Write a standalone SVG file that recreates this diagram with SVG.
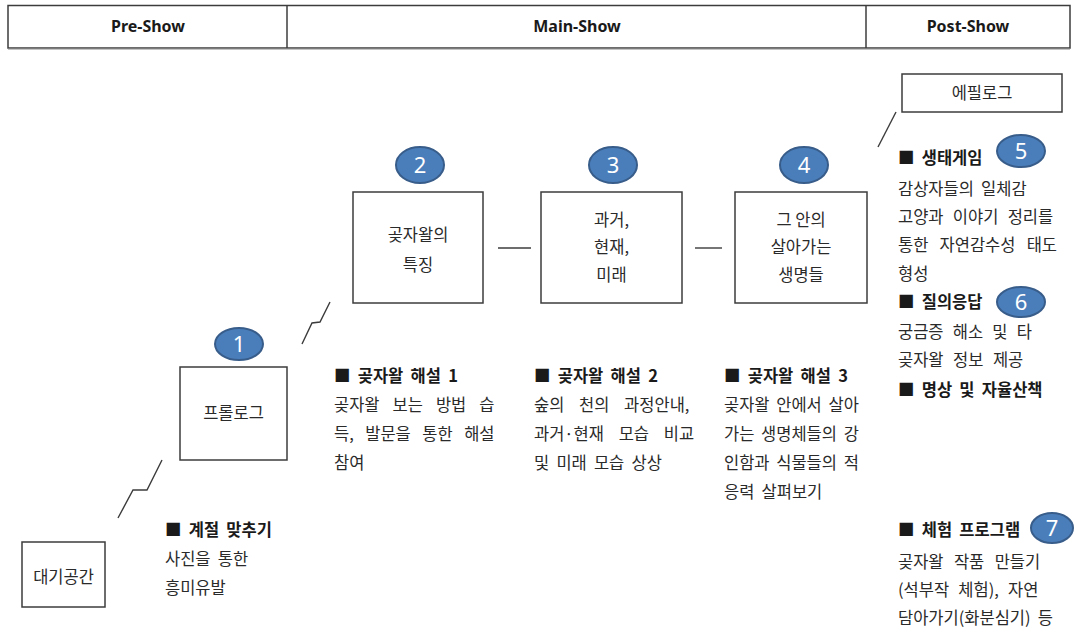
<svg xmlns="http://www.w3.org/2000/svg" width="1074" height="632" viewBox="0 0 1074 632">
<style>
.box{fill:#fff;stroke:#3c3c3c;stroke-width:1.5}
.hdr{fill:#fff;stroke:#3c3c3c;stroke-width:1.5}
.ht{font-family:"Noto Sans","Liberation Sans",sans-serif;font-size:16px;font-weight:bold;fill:#1a1a1a;text-anchor:middle}
.kt{font-family:"Noto Sans CJK KR","Noto Sans",sans-serif;font-size:16.5px;fill:#2a2a2a}
.bt{font-family:"Noto Sans CJK KR","Noto Sans",sans-serif;font-size:16.5px;fill:#2a2a2a;word-spacing:3.5px}
.tt{font-family:"Noto Sans CJK KR","Noto Sans",sans-serif;font-size:16.5px;font-weight:bold;fill:#1a1a1a;word-spacing:3.5px}
.c{text-anchor:middle}
.badge{fill:#4a7ebb;stroke:#385d8a;stroke-width:2}
.num{font-family:"Noto Sans","Liberation Sans",sans-serif;font-size:22px;fill:#fff;text-anchor:middle}
.conn{fill:none;stroke:#3c3c3c;stroke-width:1.4}
</style>
<rect width="1074" height="632" fill="#fff"/>
<g id="header">
<rect class="hdr" x="8" y="5.5" width="1062" height="42.5"/>
<line x1="287" y1="5.5" x2="287" y2="48" stroke="#3c3c3c" stroke-width="1.5"/>
<line x1="866" y1="5.5" x2="866" y2="48" stroke="#3c3c3c" stroke-width="1.5"/>
<line x1="8" y1="49" x2="1070" y2="49" stroke="#8a8a8a" stroke-width="1"/>
<text class="ht" x="148" y="32">Pre-Show</text>
<text class="ht" x="577" y="32">Main-Show</text>
<text class="ht" x="968" y="32">Post-Show</text>
</g>
<g id="connectors">
<polyline class="conn" points="118,518 133,490 147,490 162,460"/>
<polyline class="conn" points="302,344 312,323 320,322 330,302"/>
<line class="conn" x1="498" y1="248" x2="531" y2="248"/>
<line class="conn" x1="695" y1="248" x2="722" y2="248"/>
<line class="conn" x1="896" y1="112" x2="878" y2="147"/>
</g>
<g id="node-waiting">
<rect class="box" x="22" y="542" width="83" height="65"/>
<text class="kt c" x="63.5" y="583">대기공간</text>
</g>
<g id="node-prologue">
<rect class="box" x="180" y="367" width="107" height="93"/>
<text class="kt c" x="233.5" y="419">프롤로그</text>
<ellipse class="badge" cx="239" cy="344" rx="24" ry="16"/>
<text class="num" x="239" y="352">1</text>
</g>
<g id="node-feature">
<rect class="box" x="353" y="192" width="130" height="111"/>
<text class="kt c" x="418" y="241">곶자왈의</text>
<text class="kt c" x="418" y="271">특징</text>
<ellipse class="badge" cx="420" cy="165" rx="24" ry="18"/>
<text class="num" x="420" y="173">2</text>
</g>
<g id="node-time">
<rect class="box" x="541" y="192" width="141" height="111"/>
<text class="kt c" x="611.5" y="226">과거,</text>
<text class="kt c" x="611.5" y="253">현재,</text>
<text class="kt c" x="611.5" y="281">미래</text>
<ellipse class="badge" cx="613" cy="165" rx="24" ry="18"/>
<text class="num" x="613" y="173">3</text>
</g>
<g id="node-life">
<rect class="box" x="735" y="192" width="132" height="111"/>
<text class="kt c" x="801" y="226">그 안의</text>
<text class="kt c" x="801" y="253">살아가는</text>
<text class="kt c" x="801" y="281">생명들</text>
<ellipse class="badge" cx="804" cy="165" rx="24" ry="18"/>
<text class="num" x="804" y="173">4</text>
</g>
<g id="node-epilogue">
<rect class="box" x="902" y="74" width="160" height="38"/>
<text class="kt c" x="982" y="99">에필로그</text>
</g>
<g id="text-season">
<text class="tt" x="165" y="536">■ 계절 맞추기</text>
<text class="bt" x="165" y="565">사진을 통한</text>
<text class="bt" x="165" y="594">흥미유발</text>
</g>
<g id="text-guide1">
<text class="tt" x="334" y="382">■ 곶자왈 해설 1</text>
<text class="bt" x="334" y="411" style="word-spacing:9.3px">곶자왈 보는 방법 습</text>
<text class="bt" x="334" y="440" style="word-spacing:7.8px">득, 발문을 통한 해설</text>
<text class="bt" x="334" y="469">참여</text>
</g>
<g id="text-guide2">
<text class="tt" x="534" y="382">■ 곶자왈 해설 2</text>
<text class="bt" x="534" y="411" style="word-spacing:11px">숲의 천의 과정안내,</text>
<text class="bt" x="534" y="440" style="word-spacing:11px">과거·현재 모습 비교</text>
<text class="bt" x="534" y="469">및 미래 모습 상상</text>
</g>
<g id="text-guide3">
<text class="tt" x="724" y="382">■ 곶자왈 해설 3</text>
<text class="bt" x="724" y="411" style="word-spacing:3px">곶자왈 안에서 살아</text>
<text class="bt" x="724" y="440" style="word-spacing:3px">가는 생명체들의 강</text>
<text class="bt" x="724" y="469" style="word-spacing:3px">인함과 식물들의 적</text>
<text class="bt" x="724" y="498">응력 살펴보기</text>
</g>
<g id="text-post">
<text class="tt" x="898" y="164">■ 생태게임</text>
<ellipse class="badge" cx="1021" cy="151" rx="24" ry="16"/>
<text class="num" x="1021" y="159">5</text>
<text class="bt" x="898" y="195">감상자들의 일체감</text>
<text class="bt" x="898" y="223" style="word-spacing:5.6px">고양과 이야기 정리를</text>
<text class="bt" x="898" y="251" style="word-spacing:7.5px">통한 자연감수성 태도</text>
<text class="bt" x="898" y="280">형성</text>
<text class="tt" x="898" y="308">■ 질의응답</text>
<ellipse class="badge" cx="1021" cy="302" rx="24" ry="15"/>
<text class="num" x="1021" y="310">6</text>
<text class="bt" x="898" y="338" style="word-spacing:5.5px">궁금증 해소 및 타</text>
<text class="bt" x="898" y="366" style="word-spacing:5.8px">곶자왈 정보 제공</text>
<text class="tt" x="898" y="396">■ 명상 및 자율산책</text>
</g>
<g id="text-experience">
<text class="tt" x="898" y="536">■ 체험 프로그램</text>
<ellipse class="badge" cx="1052" cy="528" rx="21" ry="15"/>
<text class="num" x="1052" y="536">7</text>
<text class="bt" x="898" y="568" style="word-spacing:6.7px">곶자왈 작품 만들기</text>
<text class="bt" x="898" y="596" style="word-spacing:5.5px">(석부작 체험), 자연</text>
<text class="bt" x="898" y="624">담아가기(화분심기) 등</text>
</g>
</svg>
